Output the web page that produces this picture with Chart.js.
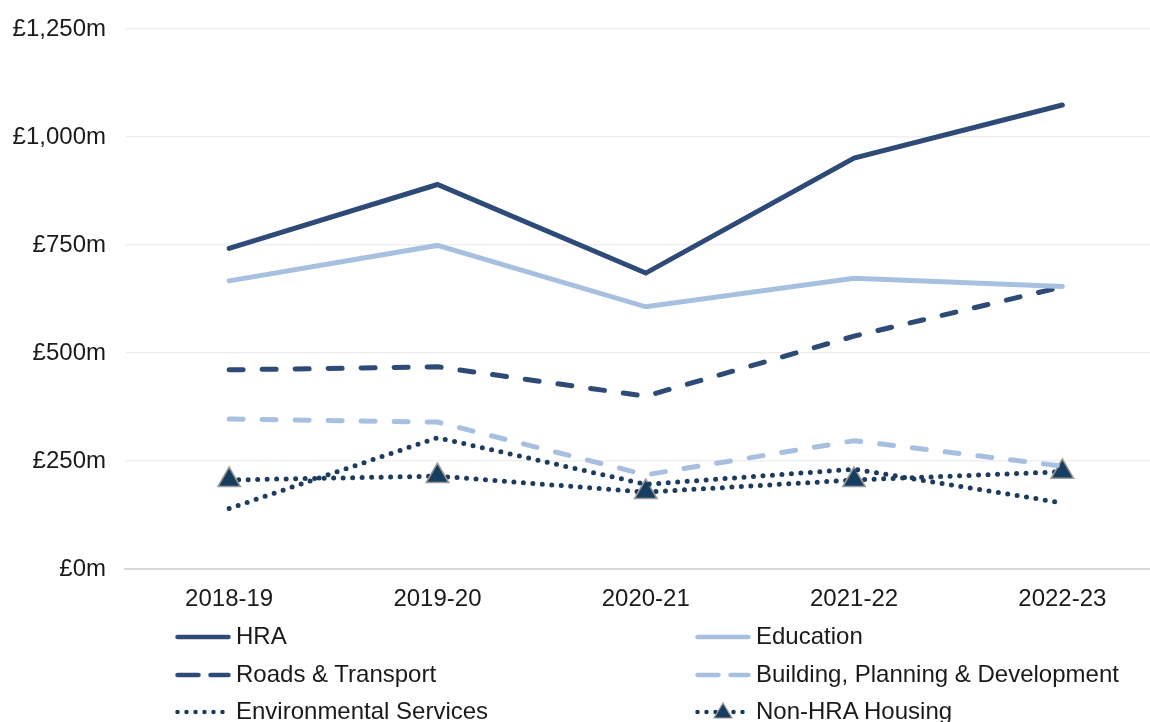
<!DOCTYPE html>
<html>
<head>
<meta charset="utf-8">
<script src="https://cdn.jsdelivr.net/npm/chart.js@4/dist/chart.umd.min.js"></script>
<style>
  html, body { margin: 0; padding: 0; background: #fff; overflow: hidden; }
  body { width: 1150px; height: 722px; position: relative; font-family: "Liberation Sans", Arial, sans-serif; }
  #chartSpend { position: absolute; left: 0; top: 0; }
  .lg { position: absolute; height: 30px; display: flex; align-items: center; font-size: 24px; color: #1a1a1a; white-space: nowrap; }
  .lg svg { margin-right: 5px; flex: none; }
</style>
</head>
<body>
<canvas id="chartSpend" width="1181" height="622"></canvas>
<div id="legend"></div>
<script>
// ── Capital spend by service ──

const years = ['2018-19', '2019-20', '2020-21', '2021-22', '2022-23'];
const yTicks = [0, 250, 500, 750, 1000, 1250];

const hra = [742, 890, 685, 951, 1074];
const education = [667, 749, 607, 673, 654];
const roads = [461, 468, 400, 539, 653];
const building = [347, 340, 218, 297, 238];
const environmental = [140, 304, 196, 231, 153];
const nonHra = [206, 215, 178, 206, 225];

const DARK = '#2E4A76';
const LIGHT = '#A8C0E0';
const DOT = '#1D3B5E';
const DASH = [14, 19];
const DOTS = [0, 9.5];

const series = [
  { label: 'HRA', data: hra, color: DARK, dash: [] },
  { label: 'Education', data: education, color: LIGHT, dash: [] },
  { label: 'Roads & Transport', data: roads, color: DARK, dash: DASH },
  { label: 'Building, Planning & Development', data: building, color: LIGHT, dash: DASH },
  { label: 'Environmental Services', data: environmental, color: DOT, dash: DOTS },
  { label: 'Non-HRA Housing', data: nonHra, color: DOT, dash: DOTS, marker: true }
];

const datasets = series.map(s => ({
  label: s.label,
  data: s.data,
  borderColor: s.color,
  backgroundColor: s.color,
  borderWidth: 5,
  borderDash: s.dash,
  borderCapStyle: 'round',
  borderJoinStyle: 'miter',
  tension: 0,
  fill: false,
  pointRadius: s.marker ? 13 : 0,
  pointStyle: 'triangle',
  pointBackgroundColor: '#173D5F',
  pointBorderColor: '#9B9B9B',
  pointBorderWidth: 1.5,
  pointHoverRadius: s.marker ? 13 : 0
}));

new Chart(document.getElementById('chartSpend'), {
  type: 'line',
  data: { labels: years, datasets },
  options: {
    responsive: false,
    animation: false,
    layout: { padding: { top: 29, right: 4, left: 0, bottom: 0 } },
    plugins: { legend: { display: false }, tooltip: { enabled: false } },
    scales: {
      x: {
        offset: true,
        grid: { display: false, drawTicks: false },
        border: { display: true, color: '#D9D9D9', width: 2 },
        ticks: { color: '#1a1a1a', padding: 16, font: { size: 24, family: 'Liberation Sans' } },
        afterFit: s => { s.height = 53; s.paddingLeft = 0; s.paddingRight = 0; }
      },
      y: {
        min: 0,
        max: 1250,
        afterBuildTicks: s => { s.ticks = yTicks.map(v => ({ value: v })); },
        grid: { color: '#EFEFEF', lineWidth: 1.5, drawTicks: false },
        border: { display: false },
        ticks: {
          color: '#1a1a1a',
          padding: 19,
          font: { size: 24, family: 'Liberation Sans' },
          callback: v => '£' + v.toLocaleString('en-GB') + 'm'
        },
        afterFit: s => { s.width = 125; s.paddingTop = 0; s.paddingBottom = 0; }
      }
    }
  }
});

// html legend, two columns
const legendPos = [
  [175, 621], [695, 621],
  [175, 659], [695, 659],
  [175, 696], [695, 696]
];
const legend = document.getElementById('legend');
series.forEach((s, i) => {
  const [x, y] = legendPos[i];
  const dash = s.dash.length ? (s.dash === DOTS ? '0 9' : '21 12') : 'none';
  const tri = s.marker ? '<polygon points="28,6 37,21 19,21" fill="#173D5F" stroke="#9B9B9B" stroke-width="1.2"/>' : '';
  const el = document.createElement('div');
  el.className = 'lg';
  el.style.left = x + 'px';
  el.style.top = y + 'px';
  el.innerHTML = '<svg width="56" height="28"><line x1="2.5" y1="15" x2="53.5" y2="15" stroke="' + s.color +
    '" stroke-width="4.5" stroke-linecap="round" stroke-dasharray="' + dash + '"/>' + tri + '</svg>' +
    '<span>' + s.label.replace(/&/g, '&amp;') + '</span>';
  legend.appendChild(el);
});
</script>
</body>
</html>
